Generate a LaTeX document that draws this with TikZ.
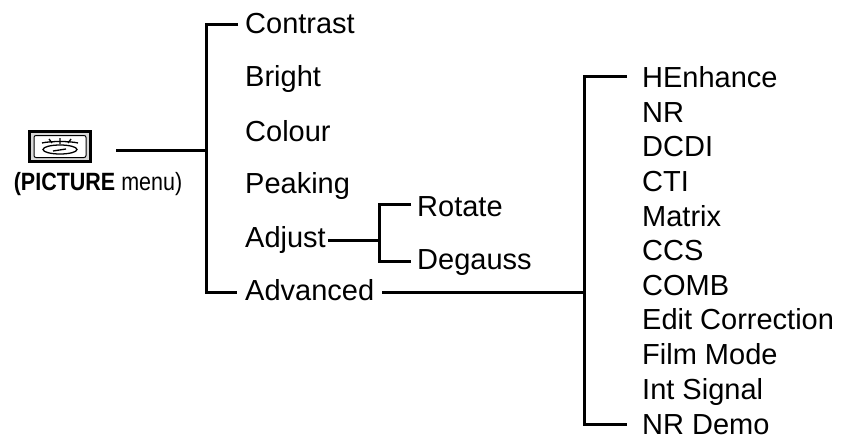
\documentclass[tikz,border=0pt]{standalone}
\usepackage{fontspec}
\usepackage{graphicx}
\setmainfont{Liberation Sans}
\begin{document}
\begin{tikzpicture}[
    x=1pt, y=-1pt,
    item/.style={anchor=west, inner xsep=7pt, inner ysep=0pt, text height=#1, text depth=0pt, font=\fontsize{29}{33}\selectfont},
    item/.default=17pt,
    sub/.style={item=17pt, inner xsep=0pt},
    wire/.style={line width=3pt},
]
    \useasboundingbox (0,0) rectangle (844,436);

    % Icon
    \node[draw=black, line width=3pt, fill=black!15, minimum width=61pt, minimum height=30pt, inner sep=0pt] (Icon) at (60,146.5) {};
    \node[draw=black, line width=1pt, fill=white, rounded corners=2pt, minimum width=52pt, minimum height=22pt, inner sep=0pt] (IconIn) at (Icon.center) {};
    \draw[line width=1.3pt] (60,149.5) ellipse (17pt and 4.5pt);
    \draw[line width=1.3pt] (42,143) .. controls (50,141) and (70,141) .. (78,143);
    \draw[line width=1.3pt] (60,138) -- (60,144) (49,139) -- (52,143) (71,139) -- (68,143) (53,151) -- (66,149);

    \node[anchor=base, inner sep=0pt, font=\fontsize{25}{30}\selectfont] (Menu) at (98,190) {\scalebox{0.86}[1]{\textbf{(PICTURE} menu)}};
    \coordinate (Start) at (116,150);

    % Nodes
    \node[item=18pt] (Contrast) at (238,24.5) {Contrast};
    \node[item] (Bright)  at (238,78.5)  {Bright};
    \node[item] (Colour)  at (238,132.5) {Colour};
    \node[item] (Peaking) at (238,184.5) {Peaking};
    \node[item=14pt, inner xsep=2pt] (Adjust) at (243,240) {Adjust};
    \node[item=16pt, inner xsep=8pt] (Advanced) at (237,292) {Advanced};

    \node[item=24pt, inner xsep=6pt] (Rotate)  at (411,204) {Rotate};
    \node[item=16pt, inner xsep=6pt] (Degauss) at (411,261) {Degauss};

    \node[item=22pt, inner xsep=15pt] (HEnhance) at (627,77) {HEnhance};
    \node[sub] (NR)     at (642,114)   {NR};
    \node[sub] (DCDI)   at (642,148.5) {DCDI};
    \node[sub] (CTI)    at (642,183)   {CTI};
    \node[sub] (Matrix) at (642,217.5) {Matrix};
    \node[sub] (CCS)    at (642,252)   {CCS};
    \node[sub] (COMB)   at (642,286.5) {COMB};
    \node[sub] (Edit)   at (642,321)   {Edit Correction};
    \node[sub] (Film)   at (642,355.5) {Film Mode};
    \node[sub] (Int)    at (642,390.5) {Int Signal};
    \node[item=20pt, inner xsep=15pt] (Demo) at (627,424) {NR Demo};

    % Lines
    \coordinate (Main) at (206,150);
    \coordinate (AdjustJoin) at (379,240);
    \coordinate (AdvJoin) at (584,292);
    \draw[wire] (Start) -- (Main);
    \draw[wire] (Contrast.west) -| (Main) |- (Advanced.west);
    \draw[wire] (Adjust.east) -- (AdjustJoin);
    \draw[wire] (Rotate.west) -| (AdjustJoin) |- (Degauss.west);
    \draw[wire] (Advanced.east) -- (AdvJoin);
    \draw[wire] (HEnhance.west) -| (AdvJoin) |- (Demo.west);
\end{tikzpicture}
\end{document}
